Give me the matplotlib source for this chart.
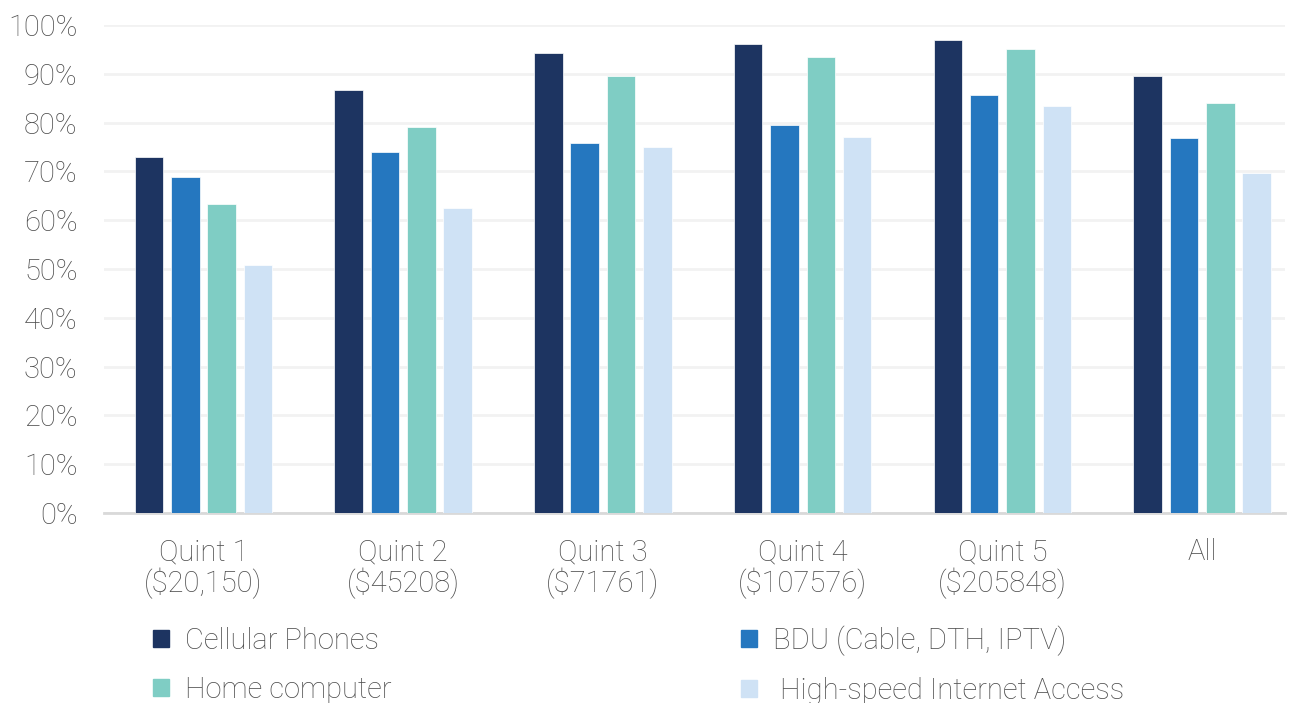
import numpy as np
import matplotlib
matplotlib.use("Agg")
import matplotlib.pyplot as plt
from matplotlib.patches import Patch

plt.rcParams['font.family'] = ['Roboto', 'DejaVu Sans']
plt.rcParams['font.weight'] = 'light'

# data
# ------------------------------------------------------------------
categories = ['Quint 1\n($20,150)', 'Quint 2\n($45208)', 'Quint 3\n($71761)',
              'Quint 4\n($107576)', 'Quint 5\n($205848)', 'All']
series = ['Cellular Phones', 'BDU (Cable, DTH, IPTV)', 'Home computer',
          ' High-speed Internet Access']
cellular = [73.0, 86.7, 94.3, 96.2, 96.9, 89.5]
bdu = [68.9, 74.0, 75.8, 79.6, 85.7, 76.9]
home_pc = [63.3, 79.0, 89.5, 93.4, 95.0, 84.0]
internet = [50.9, 62.4, 75.0, 77.1, 83.3, 69.7]
values = [cellular, bdu, home_pc, internet]
colors = ['#1D3461', '#2577BF', '#7FCDC4', '#CFE2F5']
txt = '#4d4d4d'

# plot
# ------------------------------------------------------------------
W, H = 1295, 703
fig = plt.figure(figsize=(W / 100, H / 100), dpi=100)
ax = fig.add_axes([104 / W, 1 - 513 / H, (1285 - 104) / W, (513 - 25) / H])

x = np.arange(len(categories))
pitch = 0.182
width = 0.143
for i, (vals, c) in enumerate(zip(values, colors)):
    ax.bar(x + (i - 1.5) * pitch, vals, width, color=c, label=series[i],
           edgecolor='white', linewidth=0.5, zorder=3)

ax.set_xlim(-0.498, 5.415)
ax.set_ylim(0, 100)
ax.set_yticks(np.arange(0, 101, 10))
ax.set_yticklabels([f'{v}%' for v in range(0, 101, 10)])
ax.set_xticks(x)
ax.set_xticklabels(categories, linespacing=1.05)

ax.grid(axis='y', color='#F2F2F2', linewidth=2, zorder=0)
for s in ['top', 'right', 'left']:
    ax.spines[s].set_visible(False)
ax.spines['bottom'].set_color('#D9D9D9')
ax.spines['bottom'].set_linewidth(2)
ax.tick_params(axis='both', length=0, labelsize=21, colors=txt)
ax.tick_params(axis='y', pad=19)
ax.tick_params(axis='x', pad=18)

handles = [Patch(color=c) for c in colors]
order = [0, 2, 1, 3]
fig.legend([handles[i] for i in order], [series[i] for i in order],
           loc='upper left', bbox_to_anchor=(127 / W, 1 - 599 / H),
           ncol=2, frameon=False, fontsize=21, labelcolor=txt,
           handlelength=0.53, handleheight=0.53, handletextpad=0.55,
           columnspacing=12.0, labelspacing=0.72)

fig.savefig('out.png', dpi=100)
